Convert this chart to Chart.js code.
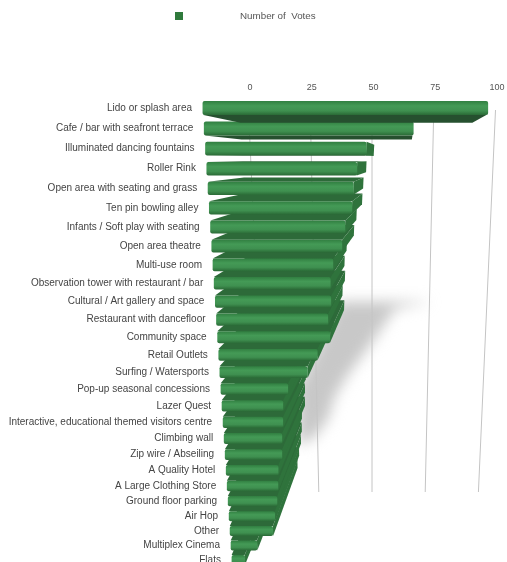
<!DOCTYPE html>
<html>
<head>
<meta charset="utf-8">
<title>Number of Votes</title>
<script src="https://cdn.jsdelivr.net/npm/chart.js@4"></script>
<style>
  html, body { margin: 0; padding: 0; background: #fff; overflow: hidden; }
  canvas { display: block; }
</style>
</head>
<body>
<canvas id="chart" width="507" height="562"></canvas>
<script>
var seriesName = 'Number of  Votes';
var categories = [
  'Lido or splash area', 'Cafe / bar with seafront terrace', 'Illuminated dancing fountains',
  'Roller Rink', 'Open area with seating and grass', 'Ten pin bowling alley',
  'Infants / Soft play with seating', 'Open area theatre', 'Multi-use room',
  'Observation tower with restaurant / bar', 'Cultural / Art gallery and space',
  'Restaurant with dancefloor', 'Community space', 'Retail Outlets', 'Surfing / Watersports',
  'Pop-up seasonal concessions', 'Lazer Quest', 'Interactive, educational themed visitors centre',
  'Climbing wall', 'Zip wire / Abseiling', 'A Quality Hotel', 'A Large Clothing Store',
  'Ground floor parking', 'Air Hop', 'Other', 'Multiplex Cinema', 'Flats'
];
var votes = [98, 73, 57, 54, 53, 52.8, 50.5, 49.6, 46.4, 45.6, 46, 45, 46, 41, 37, 28.7, 26.5, 26.4, 25.9, 25.8, 24, 23.8, 23.2, 22, 20.9, 12.9, 6.5];
var axisTicks = [0, 25, 50, 75, 100];

// outline of the soft shadow on the back wall, in axis value / row number
var shadowValues = [36, 76, 60, 50, 39, 33, 30, 23, 16, 16];
var shadowRows = [10, 10, 10.4, 12.3, 14.2, 15.5, 16.8, 18, 18.4, 15];

// vanishing point and how far back the boxes reach
var vanishX = 409, vanishY = 158, depth = 0.18;

function rowNumber(scale, py) {
  return (py - scale.top) / (scale.bottom - scale.top) * categories.length - 0.5;
}

// rows get closer together going down the page
function rowY(i) {
  return 108 + 20.6 * i - 0.124 * i * i;
}

// front plane of the bars
function frontPoint(xScale, yScale, px, py) {
  var y = rowY(rowNumber(yScale, py));
  var unit = xScale.width / 100;
  var k = 2.9 - 0.002 * (y - 108);
  return { x: 203 + 0.064 * (y - 108) + (px - xScale.left) / unit * k, y: y };
}

// back wall, where the grid lines sit
function wallPoint(xScale, px, y) {
  var unit = xScale.width / 100;
  var k = 2.47 - (y - 110) * 0.34 / 380;
  return 372 + (px - xScale.getPixelForValue(50)) / unit * k;
}

function backOf(p) {
  return { x: p.x + (vanishX - p.x) * depth, y: p.y + (vanishY - p.y) * depth };
}

function face(ctx, points, color) {
  ctx.beginPath();
  ctx.moveTo(points[0].x, points[0].y);
  for (var i = 1; i < points.length; i++) ctx.lineTo(points[i].x, points[i].y);
  ctx.closePath();
  ctx.fillStyle = color;
  ctx.fill();
}

function drawShadow(chart) {
  var ctx = chart.ctx, xs = chart.scales.x, ys = chart.scales.y;
  ctx.save();
  ctx.filter = 'blur(7px)';
  ctx.beginPath();
  shadowValues.forEach(function (v, i) {
    var y = rowY(rowNumber(ys, ys.getPixelForValue(shadowRows[i])));
    var x = wallPoint(xs, xs.getPixelForValue(v), y);
    if (i === 0) ctx.moveTo(x, y); else ctx.lineTo(x, y);
  });
  ctx.closePath();
  ctx.fillStyle = '#c8c8c8';
  ctx.fill();
  ctx.restore();
}

function drawGrid(chart) {
  var ctx = chart.ctx, xs = chart.scales.x;
  ctx.save();
  ctx.strokeStyle = '#c4c4c4';
  ctx.lineWidth = 1;
  xs.ticks.forEach(function (t) {
    var px = xs.getPixelForValue(t.value);
    ctx.beginPath();
    ctx.moveTo(wallPoint(xs, px, 110), 110);
    ctx.lineTo(wallPoint(xs, px, 492), 492);
    ctx.stroke();
  });
  ctx.restore();
}

function drawBar(chart, bar) {
  var ctx = chart.ctx, xs = chart.scales.x, ys = chart.scales.y;
  var tl = frontPoint(xs, ys, bar.base, bar.y - bar.height / 2);
  var tr = frontPoint(xs, ys, bar.x, bar.y - bar.height / 2);
  var bl = frontPoint(xs, ys, bar.base, bar.y + bar.height / 2);
  var br = frontPoint(xs, ys, bar.x, bar.y + bar.height / 2);
  var btl = backOf(tl), btr = backOf(tr), bbl = backOf(bl), bbr = backOf(br);

  if (tl.y > vanishY) face(ctx, [tl, tr, btr, btl], '#2d6a39');
  if (bl.y < vanishY) face(ctx, [bl, br, bbr, bbl], '#26502f');
  if (tr.x < vanishX) face(ctx, [tr, br, bbr, btr], '#2f733c');

  var x = Math.min(tl.x, bl.x), w = Math.max(tr.x, br.x) - x, h = bl.y - tl.y;
  var g = ctx.createLinearGradient(0, tl.y, 0, bl.y);
  g.addColorStop(0, '#317f41');
  g.addColorStop(0.35, '#449a56');
  g.addColorStop(0.7, '#3f9050');
  g.addColorStop(1, '#2a6a36');
  ctx.beginPath();
  ctx.roundRect(x, tl.y, w, h, 2);
  ctx.fillStyle = g;
  ctx.fill();
}

var perspectivePlugin = {
  id: 'perspective',
  beforeDatasetsDraw: function (chart) {
    drawShadow(chart);
    drawGrid(chart);
    var bars = chart.getDatasetMeta(0).data;
    // bottom row first, each row hides the top of the one under it
    for (var i = bars.length - 1; i >= 0; i--) drawBar(chart, bars[i]);
    return false;
  },
  afterDraw: function (chart) {
    var ctx = chart.ctx, ys = chart.scales.y, xs = chart.scales.x;
    ctx.save();
    ctx.font = '10px "Liberation Sans"';
    ctx.fillStyle = '#444';
    ctx.textAlign = 'right';
    ctx.textBaseline = 'middle';
    chart.data.labels.forEach(function (name, i) {
      var p = frontPoint(xs, ys, xs.left, ys.getPixelForValue(i));
      ctx.fillText(name, p.x - 11, p.y);
    });
    // legend
    var dataset = chart.data.datasets[0];
    ctx.fillStyle = dataset.backgroundColor;
    ctx.fillRect(175, 12, 8, 8);
    ctx.fillStyle = '#555';
    ctx.font = '9.8px "Liberation Sans"';
    ctx.textAlign = 'left';
    ctx.fillText(dataset.label, 240, 16);
    ctx.restore();
  }
};

new Chart(document.getElementById('chart'), {
  type: 'bar',
  data: {
    labels: categories,
    datasets: [{
      label: seriesName,
      data: votes,
      backgroundColor: '#2f7a3c',
      barPercentage: 0.68,
      categoryPercentage: 1
    }]
  },
  options: {
    indexAxis: 'y',
    responsive: false,
    animation: false,
    layout: { padding: { left: 250, right: 10, top: 80, bottom: 2 } },
    plugins: { legend: { display: false }, tooltip: { enabled: false } },
    scales: {
      x: {
        position: 'top',
        min: 0,
        max: 100,
        afterBuildTicks: function (axis) {
          axis.ticks = axisTicks.map(function (v) { return { value: v }; });
        },
        grid: { display: false },
        border: { display: false },
        ticks: { color: '#555', font: { family: '"Liberation Sans"', size: 9 }, maxRotation: 0, padding: 2 }
      },
      y: { display: false }
    }
  },
  plugins: [perspectivePlugin]
});
</script>
</body>
</html>
